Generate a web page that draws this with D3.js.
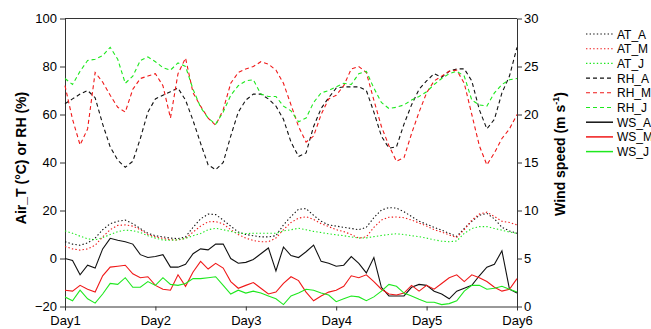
<!DOCTYPE html>
<html>
<head>
    <title>Air temperature, RH and wind speed</title>
    <style>
        body { margin: 0; background: #fff; }
        .axis text { font: 13px Arial, "Liberation Sans", sans-serif; fill: #000; }
        .axis path, .axis line { stroke: #333; stroke-width: 1px; }
        .label { font: bold 14px Arial, "Liberation Sans", sans-serif; fill: #000; }
        .legend text { font: 12px Arial, "Liberation Sans", sans-serif; fill: #000; }
        .series { fill: none; stroke-width: 1.1px; }
    </style>
    <script src="https://d3js.org/d3.v7.min.js"></script>
</head>
<body>
    <div id="chart"></div>
    <script>
        // sampled every 2 hours over 5 days
        const hours = d3.range(0, 121, 2);
        const dayLabels = ["Day1", "Day2", "Day3", "Day4", "Day5", "Day6"];
        const leftTicks = [-20, 0, 20, 40, 60, 80, 100];
        const rightTicks = [0, 5, 10, 15, 20, 25, 30];

        const AT_A = [7, 6, 5.5, 6.5, 8.5, 12, 14.5, 15.5, 16, 14.5, 12.5, 10.5, 9.5, 9, 8.5, 8.3, 9, 13, 16.5, 18.5, 18.3, 16, 13.5, 11, 10, 9.5, 9, 9, 9.5, 14, 17.5, 20.5, 20.8, 18, 15.5, 14, 13.5, 13, 12.5, 12, 13, 17, 20.2, 21.2, 21, 19.5, 17.5, 15.5, 14.3, 13, 11.8, 10.5, 9.2, 12.5, 15.5, 18, 18.8, 16.5, 13, 11.5, 10.5];
        const AT_M = [5, 4, 3.5, 4, 5.5, 9, 12, 13.8, 14, 13.5, 12, 10, 9, 8.4, 7.8, 7.7, 8.4, 11, 13.5, 15.3, 15.4, 14.4, 12, 10, 8.5, 7.5, 7, 7, 8.5, 12, 15, 16.8, 17.4, 16.3, 14.5, 13.3, 12, 11.2, 10, 8.5, 9, 13, 16, 17.2, 17.3, 17, 16, 14.8, 13.5, 12, 11, 9.8, 8.8, 12, 16, 18.5, 19.3, 17.5, 15.5, 15, 14];
        const AT_J = [11.5, 10.5, 9.3, 8.2, 7.8, 8.7, 10, 11.2, 11.8, 11.6, 10.8, 9.5, 8.5, 7.7, 7.6, 7.8, 8.4, 9.5, 10.4, 12, 12.6, 12, 11.3, 10.6, 10.4, 10.5, 10.5, 10.5, 10.5, 11.5, 12, 12.6, 12, 11.3, 10.8, 10.3, 9.9, 9.5, 9, 8.5, 8.6, 9.1, 9.6, 10, 10.3, 10, 9.5, 9.1, 8.5, 7.8, 7.2, 7, 7.3, 10.5, 12.5, 13.3, 13.3, 12.5, 11.8, 11, 10.5];
        const RH_A = [64.5, 66.5, 68.5, 70, 67, 56, 46.5, 41, 38, 40.5, 50, 61, 66.5, 68, 69.5, 71, 66, 57.5, 48, 39, 37, 40, 51, 61, 66, 68.5, 68.5, 66.5, 63.5, 58, 48.5, 42.5, 44, 55, 62.5, 67, 71, 71.5, 71.5, 71.5, 70, 61, 51, 46, 46.5, 56, 64, 70.5, 74, 77, 75.5, 78, 79, 79, 74, 62, 54, 58, 69, 76, 88];
        const RH_M = [72, 58, 47.3, 54, 77.5, 73.5, 68, 63, 61, 70.5, 75, 76, 77, 72, 58.5, 77, 83.5, 69, 63.5, 58.5, 55.5, 62, 73, 77.5, 79, 80, 82, 81, 78.5, 73, 64, 55, 48.5, 51, 60, 66.5, 68, 72, 79, 80, 77.5, 66, 55, 47, 40.5, 42, 52, 61, 69, 74, 76, 78, 78.5, 73, 60, 47, 39, 44, 50, 54, 60];
        const RH_J = [75, 72.5, 78, 82.5, 83, 84.5, 88, 83, 73, 76, 82.5, 84, 82, 79.5, 78.5, 81.5, 80, 70.5, 63, 58.5, 56, 61, 68, 72, 74, 74.5, 68.5, 67.5, 67.5, 63.5, 61.5, 57, 58.5, 65, 69, 70, 71.5, 73, 72.5, 77, 78, 71, 65, 62.5, 63, 64, 66, 67.5, 69.5, 72.5, 75, 77, 78, 76, 66, 64, 63.5, 69, 72.5, 74.5, 75];
        const WS_A = [5, 4.8, 3.3, 4.3, 4, 6, 7.1, 6.9, 6.75, 6.5, 5.4, 5.1, 5.2, 5.4, 4.1, 4.1, 4.4, 5.5, 6, 5.9, 6.5, 6.5, 5, 4.5, 4.6, 4.9, 5.5, 6.1, 3.7, 6.2, 5.3, 5.1, 5.7, 6.4, 4.7, 4.5, 4.2, 4.3, 5.2, 4.5, 3.5, 5.1, 2, 1.1, 1.1, 1.1, 2, 2.3, 2.2, 1.6, 1.3, 0.8, 1.6, 1.9, 2.2, 3.2, 4.1, 4.4, 5.8, 1.8, 1.4];
        const WS_M = [1.7, 1.6, 2.2, 1.8, 1.5, 3.2, 4.1, 4.2, 4.3, 3.4, 3, 3.1, 2.2, 1.8, 1.7, 3.3, 2.1, 3.6, 4.7, 3.9, 4.5, 4, 2.6, 1.9, 2.2, 2.5, 1.9, 1.3, 1.5, 2.4, 3.1, 2.7, 1.5, 0.6, 1.1, 1.5, 1.7, 2.1, 3.2, 3, 3.3, 2.6, 1.8, 1.3, 1.2, 1.4, 2.2, 1.6, 2.2, 1.8, 2.4, 3, 3.3, 2.6, 3.3, 3, 2.6, 2, 1.6, 1.8, 2.9];
        const WS_J = [1, 0.6, 1.7, 0.8, 0.35, 1.3, 2.4, 2.3, 3, 2, 2, 2.6, 2.2, 3, 2.3, 2.2, 2.4, 2.9, 2.9, 3, 3.1, 2.2, 1.3, 1.7, 1.4, 1.6, 1.4, 1.1, 0.8, 0.2, 1.1, 1.4, 1.8, 1.7, 1.4, 1.2, 0.5, 0.8, 1.1, 1, 0.6, 1, 1.6, 2.3, 2.1, 1.4, 1.1, 0.75, 0.45, 0.45, 0.2, 0.3, 0.6, 1.6, 2.2, 2.2, 1.8, 1.9, 2.1, 1.8, 1.5];

        const black = "#111", red = "#f01818", green = "#1ee81e";
        const dotted = "1.4,2.2", dashed = "4,3";

        const series = [
            {name: "AT_A", values: AT_A, axis: "L", color: black, dash: dotted},
            {name: "AT_M", values: AT_M, axis: "L", color: red, dash: dotted},
            {name: "AT_J", values: AT_J, axis: "L", color: green, dash: dotted},
            {name: "RH_A", values: RH_A, axis: "L", color: black, dash: dashed},
            {name: "RH_M", values: RH_M, axis: "L", color: red, dash: dashed},
            {name: "RH_J", values: RH_J, axis: "L", color: green, dash: dashed},
            {name: "WS_A", values: WS_A, axis: "R", color: black, dash: null},
            {name: "WS_M", values: WS_M, axis: "R", color: red, dash: null},
            {name: "WS_J", values: WS_J, axis: "R", color: green, dash: null}
        ];

        const width = 651, height = 329;
        const margin = {top: 18.5, right: 134, bottom: 22.5, left: 65};

        const svg = d3.select("#chart").append("svg")
            .attr("width", width)
            .attr("height", height);

        const x = d3.scaleLinear().domain([0, 120]).range([margin.left, width - margin.right]);
        const yL = d3.scaleLinear().domain([-20, 100]).range([height - margin.bottom, margin.top]);
        const yR = d3.scaleLinear().domain([0, 30]).range([height - margin.bottom, margin.top]);

        // frame top
        svg.append("line")
            .attr("x1", x(0)).attr("x2", x(120))
            .attr("y1", margin.top).attr("y2", margin.top)
            .attr("stroke", "#333");

        svg.append("g").attr("class", "axis")
            .attr("transform", `translate(${x(0)},0)`)
            .call(d3.axisLeft(yL).tickValues(leftTicks).tickSize(5).tickPadding(3).tickSizeOuter(0));

        svg.append("g").attr("class", "axis")
            .attr("transform", `translate(${x(120)},0)`)
            .call(d3.axisRight(yR).tickValues(rightTicks).tickSize(5).tickPadding(2).tickSizeOuter(0));

        svg.append("g").attr("class", "axis")
            .attr("transform", `translate(0,${height - margin.bottom})`)
            .call(d3.axisBottom(x).tickValues(dayLabels.map((d, i) => i * 24))
                .tickFormat((d, i) => dayLabels[i]).tickSize(4).tickPadding(5).tickSizeOuter(0));

        // lines
        series.forEach(s => {
            const y = s.axis === "L" ? yL : yR;
            const line = d3.line()
                .x((d, i) => x(hours[i]))
                .y(d => y(d));
            svg.append("path")
                .attr("class", "series")
                .attr("d", line(s.values))
                .attr("stroke", s.color)
                .attr("stroke-dasharray", s.dash);
        });

        // axis titles
        svg.append("text")
            .attr("class", "label")
            .attr("transform", `translate(26,158) rotate(-90)`)
            .attr("text-anchor", "middle")
            .text("Air_T (°C) or RH (%)");

        const rt = svg.append("text")
            .attr("class", "label")
            .attr("transform", `translate(565,154) rotate(-90)`)
            .attr("text-anchor", "middle");
        rt.append("tspan").text("Wind speed (m s");
        rt.append("tspan").attr("dy", -6).style("font-size", "9px").text("-1");
        rt.append("tspan").attr("dy", 6).text(")");

        // legend
        const legend = svg.append("g").attr("class", "legend");
        series.forEach((s, i) => {
            const ly = 34 + i * 14.7;
            legend.append("line")
                .attr("x1", 586).attr("x2", 613)
                .attr("y1", ly).attr("y2", ly)
                .attr("stroke", s.color)
                .attr("stroke-width", s.dash ? 1.1 : 1.5)
                .attr("stroke-dasharray", s.dash);
            legend.append("text")
                .attr("x", 617).attr("y", ly + 4.5)
                .text(s.name);
        });
    </script>
</body>
</html>
